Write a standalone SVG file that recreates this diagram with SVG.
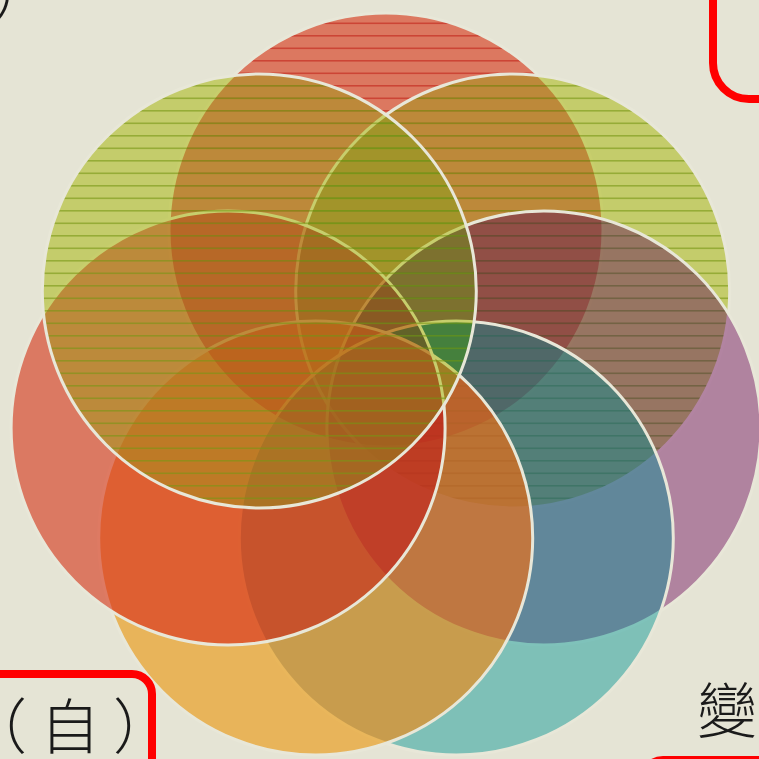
<svg xmlns="http://www.w3.org/2000/svg" width="759" height="759" viewBox="0 0 759 759">
<style>
.rim{fill:none;stroke:#e8e7d8;stroke-width:3}
.r{fill:#dc7860}
.gm{fill:#dbd173;mix-blend-mode:multiply}
.gs{fill:#004011;mix-blend-mode:screen}
.pm{fill:#c492ad;mix-blend-mode:multiply}
.ps{fill:#000023;mix-blend-mode:screen}
.tm{fill:#8cc2bf;mix-blend-mode:multiply}
.ts{fill:#003a41;mix-blend-mode:screen}
.om{fill:#d6be6b;mix-blend-mode:multiply}
.os{fill:#a11e00;mix-blend-mode:screen}
.lm{fill:#e9876a;mix-blend-mode:multiply}
.ls{fill:#39000e;mix-blend-mode:screen}
.lr{fill:url(#linesR)}
.lg{fill:url(#linesG)}
.box{fill:none;stroke:#ff0000;stroke-width:8}
.cjk{font-family:'Noto Sans CJK TC','Noto Sans CJK SC',sans-serif;font-size:60px;font-weight:300;fill:#1a1a1a}
</style>
<defs>
<pattern id="linesR" patternUnits="userSpaceOnUse" width="25" height="25">
<rect y="10" width="25" height="1.6" fill="#c8382a" fill-opacity="0.8"/>
<rect y="22.5" width="25" height="1.6" fill="#c8382a" fill-opacity="0.8"/>
</pattern>
<pattern id="linesG" patternUnits="userSpaceOnUse" width="25" height="25">
<rect y="10" width="25" height="1.6" fill="#789614" fill-opacity="0.6"/>
<rect y="22.5" width="25" height="1.6" fill="#789614" fill-opacity="0.6"/>
</pattern>
</defs>
<rect width="759" height="759" fill="#e5e4d5"/>
<g id="circles">
<g id="circle-red-top"><circle class="r" cx="386" cy="230" r="217"/><circle class="lr" cx="386" cy="230" r="217"/><circle class="rim" cx="386" cy="230" r="217"/></g>
<g id="circle-green-right"><circle class="gm" cx="512.7" cy="291" r="217"/><circle class="gs" cx="512.7" cy="291" r="217"/><circle class="lg" cx="512.7" cy="291" r="217"/><circle class="rim" cx="512.7" cy="291" r="217"/></g>
<g id="circle-mauve"><circle class="pm" cx="543.9" cy="428" r="217"/><circle class="ps" cx="543.9" cy="428" r="217"/><circle class="rim" cx="543.9" cy="428" r="217"/></g>
<g id="circle-teal"><circle class="tm" cx="456.3" cy="538" r="217"/><circle class="ts" cx="456.3" cy="538" r="217"/><circle class="rim" cx="456.3" cy="538" r="217"/></g>
<g id="circle-gold"><circle class="om" cx="315.7" cy="538" r="217"/><circle class="os" cx="315.7" cy="538" r="217"/><circle class="rim" cx="315.7" cy="538" r="217"/></g>
<g id="circle-salmon"><circle class="lm" cx="228.1" cy="428" r="217"/><circle class="ls" cx="228.1" cy="428" r="217"/><circle class="rim" cx="228.1" cy="428" r="217"/></g>
<g id="circle-green-left"><circle class="gm" cx="259.3" cy="291" r="217"/><circle class="gs" cx="259.3" cy="291" r="217"/><circle class="lg" cx="259.3" cy="291" r="217"/><circle class="rim" cx="259.3" cy="291" r="217"/></g>
</g>
<g id="frames">
<rect class="box" x="713" y="-120" width="200" height="219" rx="36"/>
<rect class="box" x="-200" y="674" width="352" height="200" rx="20"/>
<rect class="box" x="643" y="760" width="200" height="100" rx="20"/>
</g>
<g id="labels">
<text class="cjk" x="-8" y="17">）</text>
<text class="cjk" x="-33" y="749">（</text>
<text class="cjk" x="40" y="749">自</text>
<text class="cjk" x="113" y="749">）</text>
<text class="cjk" x="697" y="733">變</text>
</g>
</svg>
